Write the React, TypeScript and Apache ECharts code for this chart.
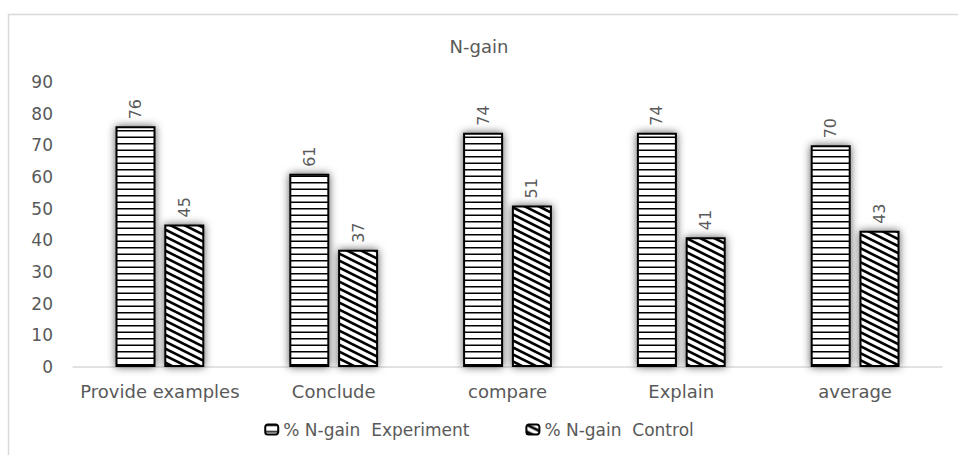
import React, { useEffect, useRef } from "react";
import * as echarts from "echarts";

const categories = ["Provide examples", "Conclude", "compare", "Explain", "average"];
const experimentValues = [76, 61, 74, 74, 70];
const controlValues = [45, 37, 51, 41, 43];
const seriesNames = ["% N-gain  Experiment", "% N-gain  Control"];
const titleText = "N-gain";

const FONT = "DejaVu Sans";
const TEXT = "#595959";

function makeHorizontalPattern(): HTMLCanvasElement {
  const c = document.createElement("canvas");
  c.width = 8;
  c.height = 13;
  const ctx = c.getContext("2d")!;
  ctx.fillStyle = "#fff";
  ctx.fillRect(0, 0, 8, 13);
  ctx.fillStyle = "#000";
  ctx.fillRect(0, 0, 8, 1.5);
  ctx.fillRect(0, 6.5, 8, 1.5);
  return c;
}

function makeDiagonalPattern(): HTMLCanvasElement {
  const c = document.createElement("canvas");
  const w = 14;
  const h = 7;
  c.width = w;
  c.height = h;
  const ctx = c.getContext("2d")!;
  ctx.fillStyle = "#fff";
  ctx.fillRect(0, 0, w, h);
  ctx.strokeStyle = "#000";
  ctx.lineWidth = 2.6;
  for (const dy of [-h, 0, h]) {
    ctx.beginPath();
    ctx.moveTo(-2, dy - 1);
    ctx.lineTo(w + 2, dy + h + 1);
    ctx.stroke();
  }
  return c;
}

export default function App() {
  const ref = useRef<HTMLDivElement>(null);

  useEffect(() => {
    if (!ref.current) return;
    const chart = echarts.init(ref.current, undefined, { renderer: "svg" });
    const hPat = makeHorizontalPattern();
    const dPat = makeDiagonalPattern();
    const hColor: any = { image: hPat.toDataURL(), repeat: "repeat" };
    const dColor: any = { image: dPat.toDataURL(), repeat: "repeat" };

    const labelCommon = {
      show: true,
      position: "top" as const,
      rotate: 90,
      align: "left" as const,
      verticalAlign: "middle" as const,
      distance: 7,
      color: TEXT,
      fontFamily: FONT,
      fontSize: 16,
    };

    const itemCommon = {
      borderColor: "#000",
      borderWidth: 2,
      shadowBlur: 8,
      shadowColor: "rgba(0,0,0,0.65)",
    };

    chart.setOption({
      animation: false,
      backgroundColor: "#fff",
      graphic: [
        {
          type: "rect",
          shape: { x: 8.5, y: 14.5, width: 980, height: 480 },
          style: { fill: "none", stroke: "#d9d9d9", lineWidth: 1.5 },
          silent: true,
          z: -10,
        },
      ],
      title: {
        text: titleText,
        left: "center",
        top: 32,
        textStyle: {
          color: TEXT,
          fontFamily: FONT,
          fontSize: 18,
          fontWeight: "normal",
        },
      },
      legend: {
        bottom: 12,
        left: "center",
        itemWidth: 13,
        itemHeight: 10,
        itemGap: 56,
        textStyle: { color: TEXT, fontFamily: FONT, fontSize: 17 },
        data: seriesNames,
      },
      grid: { left: 73, right: 16, top: 82, bottom: 88, containLabel: false },
      xAxis: {
        type: "category",
        data: categories,
        axisLine: { lineStyle: { color: "#d9d9d9", width: 1.5 } },
        axisTick: { show: false },
        axisLabel: {
          color: TEXT,
          fontFamily: FONT,
          fontSize: 18,
          margin: 15,
          interval: 0,
        },
      },
      yAxis: {
        type: "value",
        min: 0,
        max: 90,
        interval: 10,
        splitLine: { show: false },
        axisLine: { show: false },
        axisTick: { show: false },
        axisLabel: {
          color: TEXT,
          fontFamily: FONT,
          fontSize: 17,
          margin: 20,
        },
      },
      series: [
        {
          name: seriesNames[0],
          type: "bar",
          data: experimentValues,
          barWidth: 40,
          barGap: "22%",
          itemStyle: { ...itemCommon, color: hColor },
          label: labelCommon,
        },
        {
          name: seriesNames[1],
          type: "bar",
          data: controlValues,
          barWidth: 40,
          itemStyle: { ...itemCommon, color: dColor },
          label: labelCommon,
        },
      ],
    });
    return () => chart.dispose();
  }, []);

  return (
    <div
      ref={ref}
      style={{ position: "fixed", left: 0, top: 0, width: 958, height: 455 }}
    />
  );
}
